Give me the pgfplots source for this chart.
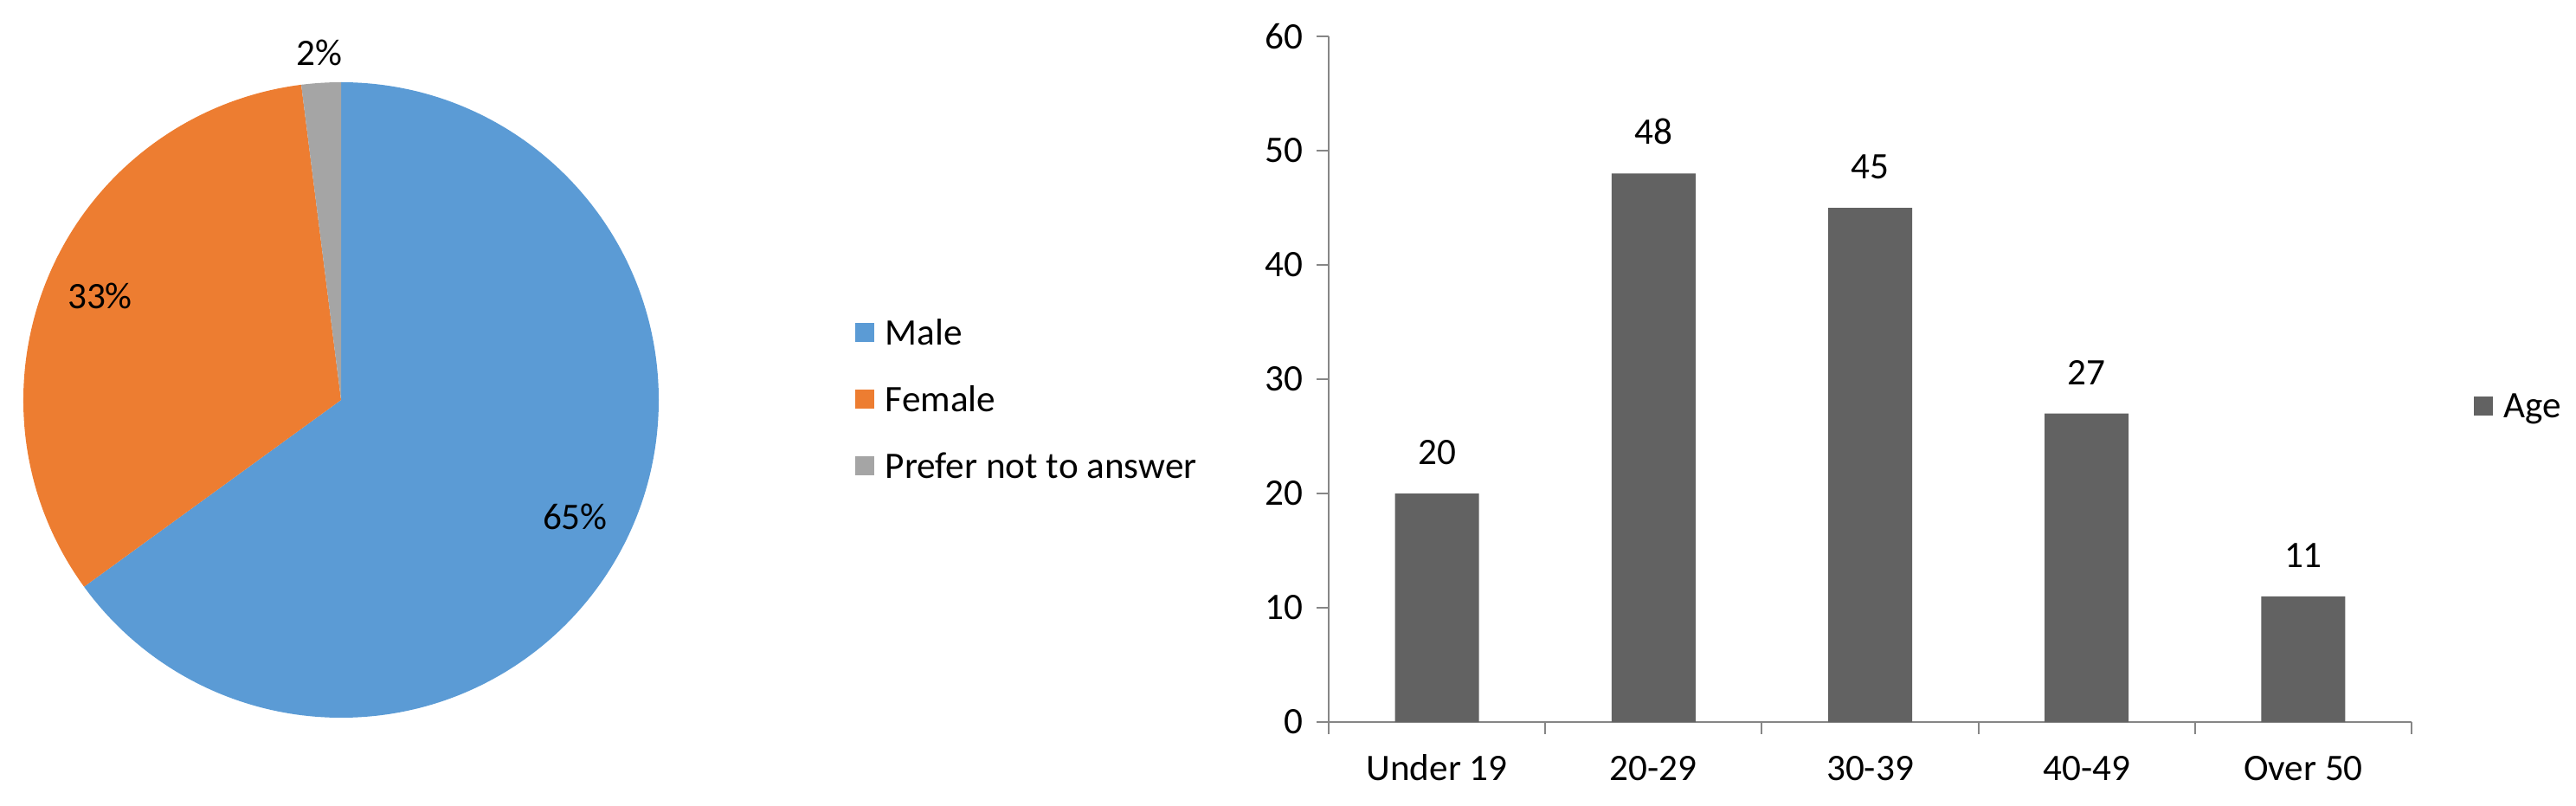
\documentclass[border=0pt]{standalone}
\usepackage{fontspec}
\setmainfont{Carlito}
\usepackage{pgfplots}
\pgfplotsset{compat=1.18}

\definecolor{malec}{RGB}{91,155,213}
\definecolor{femalec}{RGB}{237,125,49}
\definecolor{otherc}{RGB}{165,165,165}
\definecolor{barc}{RGB}{98,98,98}
\definecolor{axisgray}{RGB}{134,134,134}

\pgfplotsset{
  sqlegend/.style={legend image code/.code={\fill[##1, draw=none] (0pt,-2.65pt) rectangle (5.5pt,2.85pt);}},
  mylegend/.style={legend style={draw=none, fill=none, inner sep=0pt,
      row sep=12.2pt, column sep=3.25pt,
      nodes={inner sep=0pt, text height=7pt, text depth=0pt}},
    legend cell align=left},
}

\begin{document}
\fontsize{10.8}{13}\selectfont
\begin{tikzpicture}[x=1pt,y=1pt]
\path[use as bounding box] (0,0) rectangle (744,232.75);

% gender shares (percent), clockwise from 12 o'clock
\pgfmathsetmacro\vMale{65}
\pgfmathsetmacro\vFemale{33}
\pgfmathsetmacro\vOther{2}
\pgfmathsetmacro\aA{90-3.6*\vMale}
\pgfmathsetmacro\aB{\aA-3.6*\vFemale}
\pgfmathsetmacro\aC{\aB-3.6*\vOther}
\pgfmathsetmacro\mA{(90+\aA)/2}
\pgfmathsetmacro\mB{(\aA+\aB)/2}
\pgfmathsetmacro\mC{(\aB+\aC)/2}
\def\R{91.75pt}

\begin{axis}[
  scale only axis, width=183.5pt, height=183.5pt,
  at={(98.5pt,117.25pt)}, anchor=center,
  xmin=-1, xmax=1, ymin=-1, ymax=1,
  hide axis, clip=false,
  mylegend,
  legend style={at={(1.3079,0.5005)}, anchor=west},
]
  \addlegendimage{sqlegend, fill=malec}
  \addlegendentry{Male}
  \addlegendimage{sqlegend, fill=femalec}
  \addlegendentry{Female}
  \addlegendimage{sqlegend, fill=otherc}
  \addlegendentry{Prefer not to answer}

  \fill[malec] (axis cs:0,0) -- ++(90:\R) arc[start angle=90, end angle=\aA, radius=\R] -- cycle;
  \fill[femalec] (axis cs:0,0) -- ++(\aA:\R) arc[start angle=\aA, end angle=\aB, radius=\R] -- cycle;
  \fill[otherc] (axis cs:0,0) -- ++(\aB:\R) arc[start angle=\aB, end angle=\aC, radius=\R] -- cycle;

  \node[inner sep=0pt] at (axis cs:{0.827*cos(\mA)},{0.81*sin(\mA)}) {65\%};
  \node[inner sep=0pt] at (axis cs:{0.827*cos(\mB)},{0.827*sin(\mB)}) {33\%};
  \node[inner sep=0pt] at (axis cs:{1.095*cos(\mC)},{1.095*sin(\mC)}) {2\%};
\end{axis}

\begin{axis}[
  scale only axis, width=312.75pt, height=198pt,
  at={(383.75pt,24.25pt)}, anchor=south west,
  xmin=-0.5, xmax=4.5, ymin=0, ymax=60,
  ytick={0,10,...,60},
  xtick={-0.5,0.5,1.5,2.5,3.5,4.5},
  x tick label as interval,
  xticklabels={Under 19,20-29,30-39,40-49,Over 50},
  axis x line*=bottom, axis y line*=left,
  axis line style={-, draw=axisgray, line width=0.5pt},
  tick style={draw=axisgray, line width=0.5pt},
  tick align=outside, major tick length=3.5pt,
  /pgf/number format/assume math mode=true,
  xticklabel style={inner sep=0pt, text height=7pt, text depth=0pt, yshift=-6.2pt},
  yticklabel style={inner sep=0pt, xshift=-3.8pt},
  mylegend,
  legend style={at={(1.0568,0.4609)}, anchor=west},
]
  \addlegendimage{sqlegend, fill=barc}
  \addlegendentry{Age}
  \addplot[ybar, bar width=24.25pt, fill=barc, draw=none, forget plot,
    nodes near coords,
    every node near coord/.append style={inner sep=0pt, anchor=south, yshift=8.1pt, text=black}]
    coordinates {(0,20) (1,48) (2,45) (3,27) (4,11)};
\end{axis}
\end{tikzpicture}
\end{document}
